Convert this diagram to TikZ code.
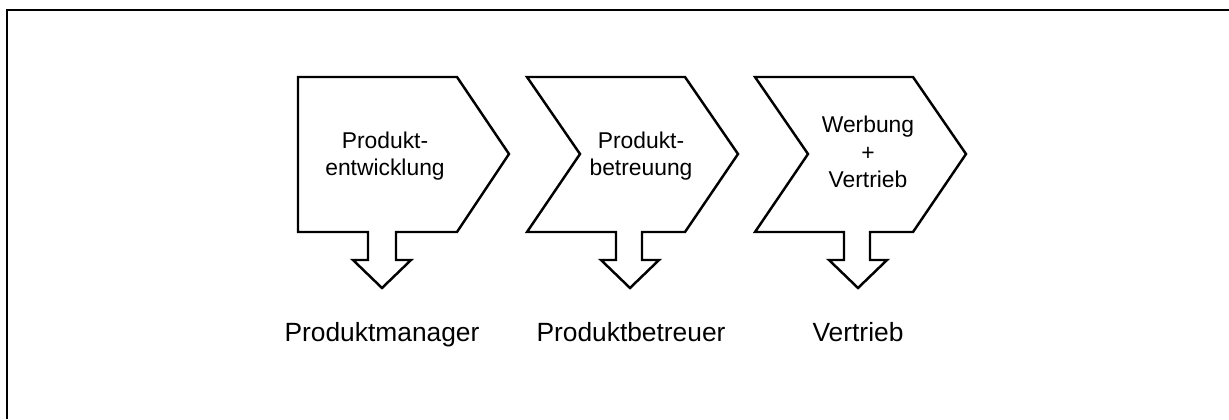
\documentclass[tikz,border=0pt]{standalone}
\usepackage{fontspec}
\setmainfont{Liberation Sans}
\usepackage{tikz}

\begin{document}
\begin{tikzpicture}[x=0.02cm,y=-0.02cm]
                \tikzstyle{chev}=[draw=black,line width=1.4pt,fill=white]
                \tikzstyle{inner}=[align=center,inner sep=0pt,font=\fontsize{13}{15.6}\selectfont]
                \tikzstyle{role}=[anchor=base,inner sep=0pt,font=\fontsize{15}{18}\selectfont]
                \useasboundingbox (0,0) rectangle (1229,419);
                \draw[line width=1.1pt] (7,419) -- (7,10) -- (1229,10);

                    \draw[chev] (298,77) -- (457,77) -- (509,154) -- (457,232) -- (396,232) -- (396,260) -- (411,260) -- (382,288) -- (353,260) -- (368,260) -- (368,232) -- (298,232) -- cycle;
                    \foreach \l in {527, 755}
                        \draw[chev] (\l,77) -- (\l+158,77) -- (\l+211,154) -- (\l+158,232) -- (\l+115,232) -- (\l+115,260) -- (\l+132,260) -- (\l+103,288) -- (\l+74,260) -- (\l+89,260) -- (\l+89,232) -- (\l,232) -- (\l+53,154) -- cycle;

                    \node[inner] (T-entw) at (385,156) {Produkt-\\entwicklung};
                    \node[inner] (T-betr) at (641,156) {Produkt-\\betreuung};
                    \node[inner] (T-vert) at (868,152) {Werbung\\+\\Vertrieb};

                \foreach \name/\x/\txt in {pm/382/Produktmanager, pb/631/Produktbetreuer, vt/858/Vertrieb}
                        \node[role] (L-\name) at (\x,341) {\txt};
            \end{tikzpicture}
\end{document}
